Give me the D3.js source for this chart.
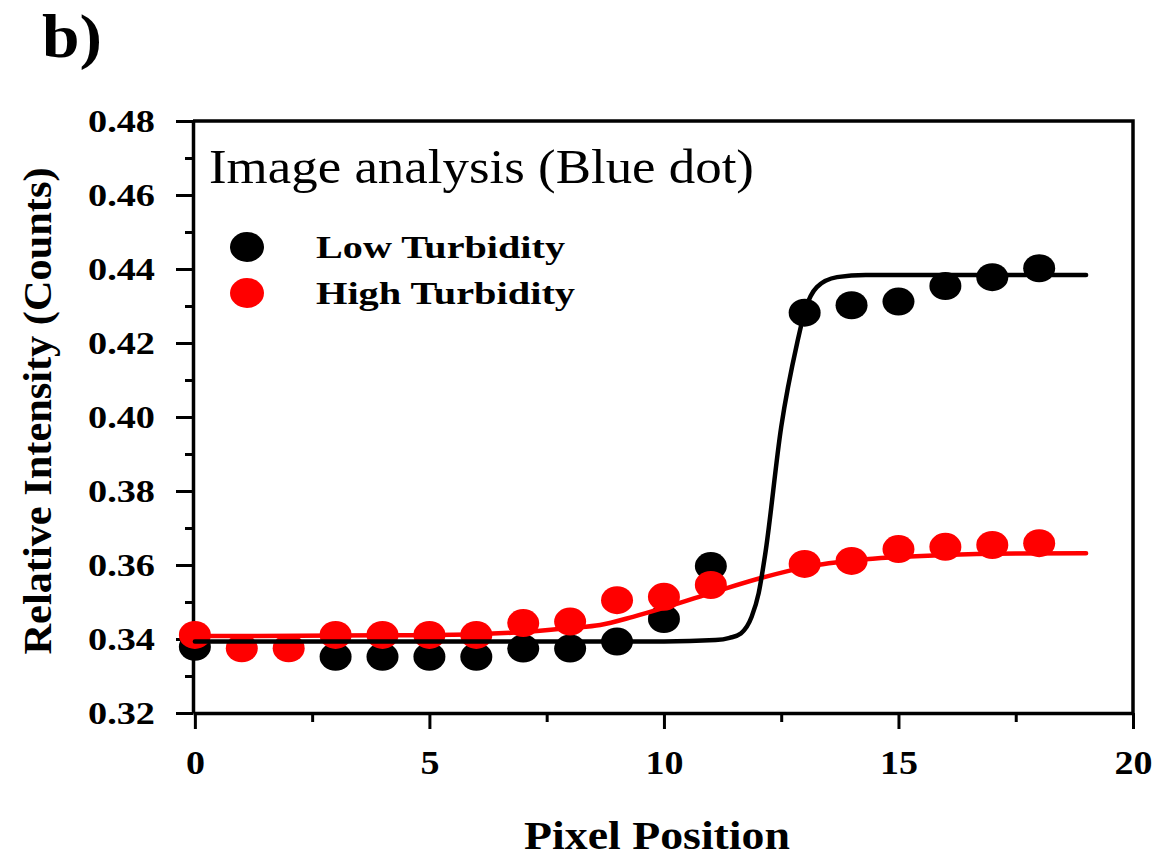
<!DOCTYPE html>
<html>
<head>
<meta charset="utf-8">
<script src="https://cdn.jsdelivr.net/npm/d3@7"></script>
<style>
  body { margin: 0; background: #fff; }
  text { font-family: "Liberation Serif", "Times New Roman", serif; }
</style>
</head>
<body>
<div id="chart"></div>
<script>
// data
const lowX = [0, 3, 4, 5, 6, 7, 8, 9, 10, 11, 13, 14, 15, 16, 17, 18]
const lowY = [0.3379, 0.3352, 0.3352, 0.3352, 0.3352, 0.3374, 0.3374, 0.3393, 0.3454, 0.3597,
              0.4282, 0.4302, 0.4312, 0.4354, 0.4378, 0.4402]
const highX = [0, 1, 2, 3, 4, 5, 6, 7, 8, 9, 10, 11, 13, 14, 15, 16, 17, 18]
const highY = [0.3411, 0.3375, 0.3375, 0.3411, 0.3411, 0.3411, 0.3411, 0.3443, 0.3447, 0.3505,
               0.3514, 0.3546, 0.3603, 0.3611, 0.3643, 0.3649, 0.3654, 0.3659]

// fitted curves
const lowFitX = [0, 10, 11.1, 11.4, 11.64, 11.87, 12.02, 12.16, 12.5, 12.84, 13.01, 13.26, 13.69, 14.3, 19]
const lowFitY = [0.3393, 0.3393, 0.3397, 0.3403, 0.3415, 0.346, 0.3524, 0.363, 0.3973, 0.42,
                 0.4289, 0.4351, 0.4378, 0.4384, 0.4384]
const highFitX = [0, 4, 6, 7, 8, 8.64, 9.34, 10.1, 11.1, 12.16, 13.05, 14.15, 15.99, 17.5, 19]
const highFitY = [0.3408, 0.341, 0.3413, 0.3419, 0.343, 0.3438, 0.346, 0.3488, 0.3528, 0.3568,
                  0.3595, 0.3614, 0.3627, 0.3631, 0.3632]

const xMajor = [0, 5, 10, 15, 20]
const xMinor = [2.5, 7.5, 12.5, 17.5]
const yMajor = [0.32, 0.34, 0.36, 0.38, 0.40, 0.42, 0.44, 0.46, 0.48]
const yMinor = [0.33, 0.35, 0.37, 0.39, 0.41, 0.43, 0.45, 0.47]

const seriesNames = ['Low Turbidity', 'High Turbidity']
const seriesColors = ['#000000', '#ff0000']
const titleText = 'Image analysis (Blue dot)'

const W = 1164, H = 857
const svg = d3.select('#chart').append('svg')
  .attr('width', W)
  .attr('height', H)

const x = d3.scaleLinear().domain([-0.04, 20]).range([193, 1133])
const y = d3.scaleLinear().domain([0.32, 0.48]).range([713, 121])

// panel letter
svg.append('text')
  .attr('x', 42).attr('y', 57)
  .attr('font-size', 62).attr('font-weight', 'bold')
  .attr('textLength', 60).attr('lengthAdjust', 'spacingAndGlyphs')
  .text('b)')

// top and right frame
svg.append('path')
  .attr('d', `M${x(-0.04)},${y(0.48)}H${x(20)}V${y(0.32)}`)
  .attr('fill', 'none').attr('stroke', '#000').attr('stroke-width', 3.5)

// y axis
const yAx = svg.append('g').attr('transform', `translate(${x(-0.04)},0)`)
  .call(d3.axisLeft(y).tickValues(yMajor).tickSize(17).tickSizeOuter(0).tickPadding(21)
    .tickFormat(d3.format('.2f')))
yAx.append('g')
  .call(d3.axisLeft(y).tickValues(yMinor).tickSize(8).tickSizeOuter(0).tickFormat(''))
  .select('.domain').remove()
yAx.selectAll('text')
  .attr('font-size', 32).attr('font-weight', 'bold').attr('fill', '#000')
  .attr('font-family', '"Liberation Serif", serif')
  .attr('textLength', 67).attr('lengthAdjust', 'spacingAndGlyphs')

// x axis
const xAx = svg.append('g').attr('transform', `translate(0,${y(0.32)})`)
  .call(d3.axisBottom(x).tickValues(xMajor).tickSize(16).tickSizeOuter(0).tickPadding(22)
    .tickFormat(d3.format('d')))
xAx.append('g')
  .call(d3.axisBottom(x).tickValues(xMinor).tickSize(9).tickSizeOuter(0).tickFormat(''))
  .select('.domain').remove()
xAx.selectAll('text')
  .attr('font-size', 33).attr('font-weight', 'bold').attr('fill', '#000')
  .attr('font-family', '"Liberation Serif", serif')
  .attr('textLength', d => String(d).length * 19).attr('lengthAdjust', 'spacingAndGlyphs')

svg.selectAll('.domain').attr('stroke-width', 3.5)
svg.selectAll('.tick line').attr('stroke-width', 3)

// axis titles
svg.append('text')
  .attr('x', 657).attr('y', 849)
  .attr('text-anchor', 'middle')
  .attr('font-size', 39).attr('font-weight', 'bold')
  .attr('textLength', 266).attr('lengthAdjust', 'spacingAndGlyphs')
  .text('Pixel Position')

svg.append('text')
  .attr('transform', 'translate(51,411) rotate(-90)')
  .attr('text-anchor', 'middle')
  .attr('font-size', 39).attr('font-weight', 'bold')
  .attr('textLength', 487).attr('lengthAdjust', 'spacingAndGlyphs')
  .text('Relative Intensity (Counts)')

// inner title
svg.append('text')
  .attr('x', 209).attr('y', 183)
  .attr('font-size', 49)
  .attr('textLength', 545).attr('lengthAdjust', 'spacingAndGlyphs')
  .text(titleText)

// legend
const legY = [247, 293]
const legLen = [249, 259]
seriesNames.forEach((n, i) => {
  svg.append('ellipse')
    .attr('cx', 247).attr('cy', legY[i])
    .attr('rx', 17).attr('ry', 15)
    .attr('fill', seriesColors[i])
  svg.append('text')
    .attr('x', 316).attr('y', legY[i] + 11)
    .attr('font-size', 31).attr('font-weight', 'bold')
    .attr('textLength', legLen[i]).attr('lengthAdjust', 'spacingAndGlyphs')
    .text(n)
})

// points
const lowPts = lowX.map((d, i) => [d, lowY[i]])
const highPts = highX.map((d, i) => [d, highY[i]])

svg.append('g').selectAll('ellipse')
  .data(lowPts)
  .enter()
  .append('ellipse')
  .attr('cx', d => x(d[0]))
  .attr('cy', d => y(d[1]))
  .attr('rx', 16).attr('ry', 14)
  .attr('fill', seriesColors[0])

svg.append('g').selectAll('ellipse')
  .data(highPts)
  .enter()
  .append('ellipse')
  .attr('cx', d => x(d[0]))
  .attr('cy', d => y(d[1]))
  .attr('rx', 16).attr('ry', 14)
  .attr('fill', seriesColors[1])

// fit lines
const line = d3.line()
  .x(d => x(d[0]))
  .y(d => y(d[1]))
  .curve(d3.curveMonotoneX)

svg.append('path')
  .attr('d', line(highFitX.map((d, i) => [d, highFitY[i]])))
  .attr('fill', 'none').attr('stroke', seriesColors[1])
  .attr('stroke-width', 4.5).attr('stroke-linecap', 'round')

svg.append('path')
  .attr('d', line(lowFitX.map((d, i) => [d, lowFitY[i]])))
  .attr('fill', 'none').attr('stroke', seriesColors[0])
  .attr('stroke-width', 4.5).attr('stroke-linecap', 'round')
</script>
</body>
</html>
